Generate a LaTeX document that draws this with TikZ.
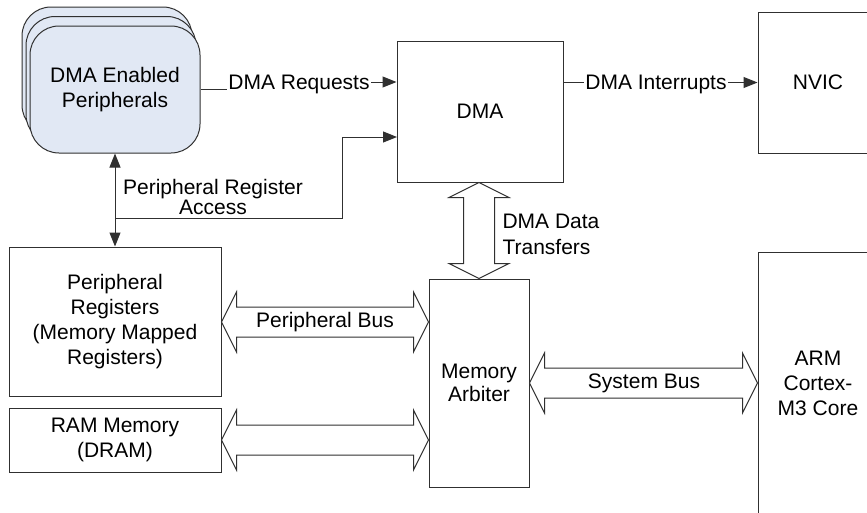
\documentclass[tikz,border=0pt]{standalone}
\usepackage{fontspec}
\setmainfont{Liberation Sans}
\usetikzlibrary{arrows.meta,calc}
\definecolor{edge}{HTML}{303030}
\definecolor{perifill}{HTML}{E1E8F4}
\tikzset{
  txt/.style={font=\fontsize{21}{25}\selectfont, text=black},
  box/.style={txt, draw=edge, line width=1pt, align=center, inner sep=0pt},
  peri/.style={box, fill=perifill, rounded corners=29pt, minimum width=170pt, minimum height=127pt},
  wire/.style={draw=edge, line width=1pt},
  tip/.style={-{Triangle[length=14pt,width=11pt]}},
  tips/.style={{Triangle[length=14pt,width=11pt]}-{Triangle[length=14pt,width=11pt]}},
  lbl/.style={txt, inner sep=1pt, fill=white},
  bus/.style={draw=edge, line width=1pt, fill=white, line join=miter},
}
% horizontal double block arrow between two anchors on the same height
\newcommand\busH[2]{%
  \path[bus] let \p1=(#1), \p2=(#2) in
    (\x1,\y1) -- (\x1+15pt,\y1+30pt) -- (\x1+15pt,\y1+15pt) -- (\x2-15pt,\y1+15pt)
    -- (\x2-15pt,\y1+30pt) -- (\x2,\y1) -- (\x2-15pt,\y1-30pt) -- (\x2-15pt,\y1-15pt)
    -- (\x1+15pt,\y1-15pt) -- (\x1+15pt,\y1-30pt) -- cycle;}
% vertical double block arrow from an upper anchor down to a lower one
\newcommand\busV[2]{%
  \path[bus] let \p1=(#1), \p2=(#2) in
    (\x1,\y1) -- (\x1+30pt,\y1-15pt) -- (\x1+15.5pt,\y1-15pt) -- (\x1+15.5pt,\y2+15pt)
    -- (\x1+30pt,\y2+15pt) -- (\x1,\y2) -- (\x1-30pt,\y2+15pt) -- (\x1-15.5pt,\y2+15pt)
    -- (\x1-15.5pt,\y1-15pt) -- (\x1-30pt,\y1-15pt) -- cycle;}
\begin{document}
\begin{tikzpicture}[x=1pt,y=-1pt]
\useasboundingbox (0,0) rectangle (867,512);

% stack of DMA enabled peripherals
\node[peri] (ep3) at (107,70.5) {};
\node[peri] (ep2) at (111,80) {};
\node[peri] (ep) at (115,89.5) {DMA Enabled\\Peripherals};

% blocks
\node[box, minimum width=166pt, minimum height=141pt] (dma) at (480,111.5) {DMA};
\node[box, minimum width=120pt, minimum height=141pt] (nvic) at (818,82.5) {NVIC};
\node[box, minimum width=212pt, minimum height=149pt] (preg) at (115,321.5)
  {Peripheral\\Registers\\(Memory Mapped\\Registers)};
\node[box, minimum width=212pt, minimum height=64pt] (ram) at (115,440) {RAM Memory\\(DRAM)};
\node[box, minimum width=100pt, minimum height=208pt, font=\fontsize{21}{23.5}\selectfont] (arb) at (479,383) {Memory\\Arbiter};
\node[box, minimum width=120pt, minimum height=262pt] (arm) at (818,383) {ARM\\Cortex-\\M3 Core};

% DMA requests
\coordinate (rqa) at (299,89.5);
\coordinate (rqb) at (299,82);
\draw[wire, tip] (ep.east) -- (rqa) -- (rqb) -- (dma.west |- rqb);
\node[lbl] (rql) at (299,84) {DMA Requests};

% DMA interrupts
\draw[wire, tip] (dma.east |- nvic.west) -- (nvic.west);
\node[lbl] (irl) at (656,84) {DMA Interrupts};

% peripheral register access
\draw[wire, tips] (ep.south) -- (preg.north);
\coordinate (tap) at (115,218);
\coordinate (bend) at (342,218);
\coordinate (din) at (397,137);
\draw[wire, tip] (tap) -- (bend) |- (din);
\node[txt, align=center, font=\fontsize{21}{19.5}\selectfont] (pra) at (213,197)
  {Peripheral Register\\Access};

% buses
\busV{arb.north |- dma.south}{arb.north}
\node[txt, align=left, anchor=west, font=\fontsize{21}{26}\selectfont] (dtl) at (499,234) {DMA Data\\Transfers};

\busH{preg.east |- 0,322}{arb.west |- 0,322}
\node[txt] (pbl) at (325,322) {Peripheral Bus};

\busH{ram.east}{arb.west |- ram.east}
\busH{arb.east}{arm.west |- arb.east}
\node[txt] (sbl) at (644,383) {System Bus};
\end{tikzpicture}
\end{document}
